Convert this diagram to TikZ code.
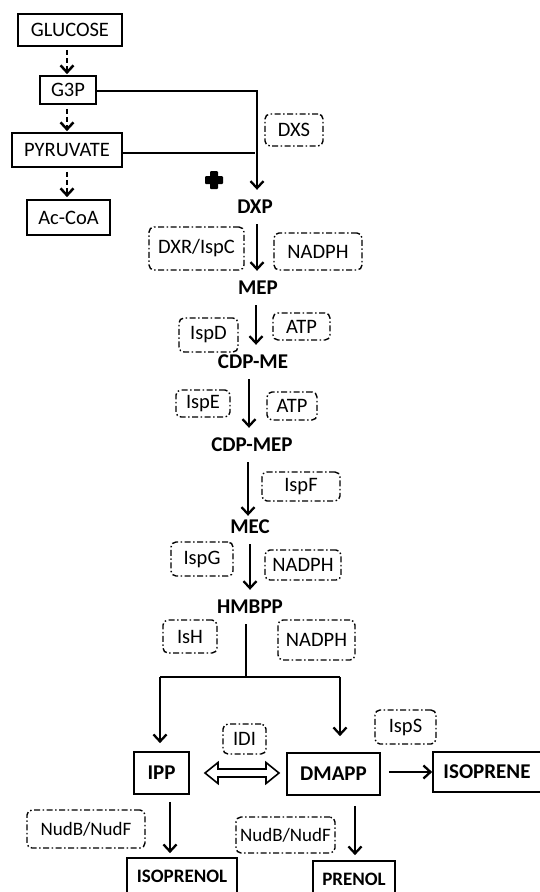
\documentclass[tikz,border=0pt]{standalone}
\usepackage{fontspec}
\setmainfont{Carlito}
\usetikzlibrary{arrows.meta}
\begin{document}
\begin{tikzpicture}[x=1pt,y=-1pt,
  font=\fontsize{20.5}{24}\selectfont,
  sbox/.style={draw, line width=1.7pt, inner sep=0pt},
  ebox/.style={draw, line width=1.4pt, rounded corners=5pt,
    dash pattern=on 6pt off 2.5pt on 1.5pt off 2.5pt, inner sep=0pt},
  lbl/.style={font=\fontsize{21}{24}\selectfont\bfseries, inner sep=0pt, minimum height=34pt},
  bl/.style={font=\fontsize{21}{24}\selectfont\bfseries},
  bs/.style={font=\fontsize{19}{24}\selectfont\bfseries},
  arr/.style={line width=2.3pt, -{Straight Barb[length=7pt,width=13pt]}},
  darr/.style={arr, line width=2.5pt, dash pattern=on 5pt off 3pt},
  ln/.style={line width=2.2pt}]
\useasboundingbox (0,0) rectangle (540,892);
\clip (0,0) rectangle (540,892);
\fill[white] (0,0) rectangle (540,892);

% left column
\node[sbox, minimum width=104pt, minimum height=32pt] (glucose) at (70,30) {GLUCOSE};
\node[sbox, minimum width=56pt, minimum height=28pt] (g3p) at (68,90) {G3P};
\node[sbox, minimum width=110pt, minimum height=34pt] (pyr) at (67,150) {PYRUVATE};
\node[sbox, minimum width=83pt, minimum height=35pt] (acoa) at (68.5,217.5) {Ac-CoA};

\coordinate (lx) at (67,0);
\draw[darr, shorten <=3pt, shorten >=1pt] (glucose.south -| lx) -- (g3p.north -| lx);
\draw[darr, shorten <=4pt, shorten >=1pt] (g3p.south -| lx) -- (pyr.north -| lx);
\draw[darr, shorten <=4pt, shorten >=2pt] (pyr.south -| lx) -- (acoa.north -| lx);

% main pathway labels
\node[lbl] (dxp) at (255,207) {DXP};
\node[lbl] (mep) at (258,288) {MEP};
\node[lbl] (cdpme) at (253,362) {CDP-ME};
\node[lbl] (cdpmep) at (252,445) {CDP-MEP};
\node[lbl] (mec) at (250,527) {MEC};
\node[lbl] (hmbpp) at (250,607) {HMBPP};

% G3P + pyruvate -> DXP
\coordinate (gj) at (257,91);
\coordinate (pj) at (255,153);
\draw[arr] (g3p.east |- gj) -- (gj) -- (dxp.north -| gj);
\draw[ln] (pyr.east |- pj) -- (pj);
\fill[rounded corners=1pt] (205,176) rectangle (223,184);
\fill[rounded corners=1pt] (210,171) rectangle (218,189);

% pathway arrows
\coordinate (a1) at (257,0);
\coordinate (a2) at (256,0);
\coordinate (a3) at (249,0);
\coordinate (a4) at (248,0);
\coordinate (a5) at (250,0);
\draw[arr] (dxp.south -| a1) -- (mep.north -| a1);
\draw[arr] (mep.south -| a2) -- (cdpme.north -| a2);
\draw[arr] (cdpme.south -| a3) -- (cdpmep.north -| a3);
\draw[arr, shorten >=-6pt] (cdpmep.south -| a4) -- (mec.north -| a4);
\draw[arr] (mec.south -| a5) -- (hmbpp.north -| a5);

% enzyme / cofactor boxes
\node[ebox, minimum width=58pt, minimum height=32pt] (dxs) at (294,130) {DXS};
\node[ebox, minimum width=95pt, minimum height=43pt] (dxr) at (196.5,248.5) {DXR/IspC};
\node[ebox, minimum width=88pt, minimum height=37pt] (nadph1) at (318,251.5) {NADPH};
\node[ebox, minimum width=59pt, minimum height=34pt] (ispd) at (208.5,335) {IspD};
\node[ebox, minimum width=57pt, minimum height=27pt] (atp1) at (301.5,326.5) {ATP};
\node[ebox, minimum width=54pt, minimum height=27pt] (ispe) at (203,403.5) {IspE};
\node[ebox, minimum width=50pt, minimum height=28pt] (atp2) at (292,406) {ATP};
\node[ebox, minimum width=78pt, minimum height=29pt] (ispf) at (301,486.5) {IspF};
\node[ebox, minimum width=62pt, minimum height=34pt] (ispg) at (202,559) {IspG};
\node[ebox, minimum width=76pt, minimum height=30pt] (nadph2) at (303,565) {NADPH};
\node[ebox, minimum width=54pt, minimum height=33pt] (ish) at (190,636.5) {IsH};
\node[ebox, minimum width=77pt, minimum height=40pt] (nadph3) at (316.5,640) {NADPH};
\node[ebox, minimum width=61pt, minimum height=34pt] (isps) at (405.5,727) {IspS};
\node[ebox, minimum width=43pt, minimum height=30pt] (idi) at (244.5,739) {IDI};
\node[ebox, minimum width=118pt, minimum height=38pt, font=\fontsize{19}{22}\selectfont] (nud1) at (86,829) {NudB/NudF};
\node[ebox, minimum width=99pt, minimum height=36pt, font=\fontsize{19}{22}\selectfont] (nud2) at (285.5,835) {NudB/NudF};

% lower boxes
\node[sbox, bl, minimum width=55pt, minimum height=42pt] (ipp) at (161.5,773) {IPP};
\node[sbox, bl, minimum width=93pt, minimum height=42pt] (dmapp) at (333.5,774) {DMAPP};
\node[sbox, bl, minimum width=108pt, minimum height=40pt] (isoprene) at (487,772) {ISOPRENE};
\node[sbox, bs, minimum width=110pt, minimum height=36pt] (isoprenol) at (182,876) {ISOPRENOL};
\node[sbox, bs, minimum width=82pt, minimum height=36pt] (prenol) at (354,879) {PRENOL};

% branch from HMBPP
\coordinate (hj) at (246,677);
\coordinate (lj) at (160,677);
\coordinate (rj) at (340,677);
\draw[ln] (hmbpp.south -| hj) -- (hj);
\draw[ln] (lj) -- (rj);
\draw[arr, shorten >=8pt] (lj) -- (ipp.north -| lj);
\draw[arr, shorten >=16pt] (rj) -- (dmapp.north -| rj);

% IDI double arrow (outlined)
\coordinate (dc) at (242,773);
\draw[line width=1.6pt, line join=miter, fill=white] (dc) ++(-37,0) -- ++(13,-10.5) -- ++(0,6.5) -- ++(48,0)
  -- ++(0,-6.5) -- ++(13,10.5) -- ++(-13,10.5) -- ++(0,-6.5) -- ++(-48,0) -- ++(0,6.5) -- cycle;

% outputs
\draw[arr, shorten <=8pt] (dmapp.east |- isoprene.west) -- (isoprene.west);
\coordinate (ix) at (170,0);
\coordinate (px) at (355,0);
\draw[arr, shorten <=7pt, shorten >=4pt] (ipp.south -| ix) -- (isoprenol.north -| ix);
\draw[arr, shorten <=10pt, shorten >=5pt] (dmapp.south -| px) -- (prenol.north -| px);
\end{tikzpicture}
\end{document}
